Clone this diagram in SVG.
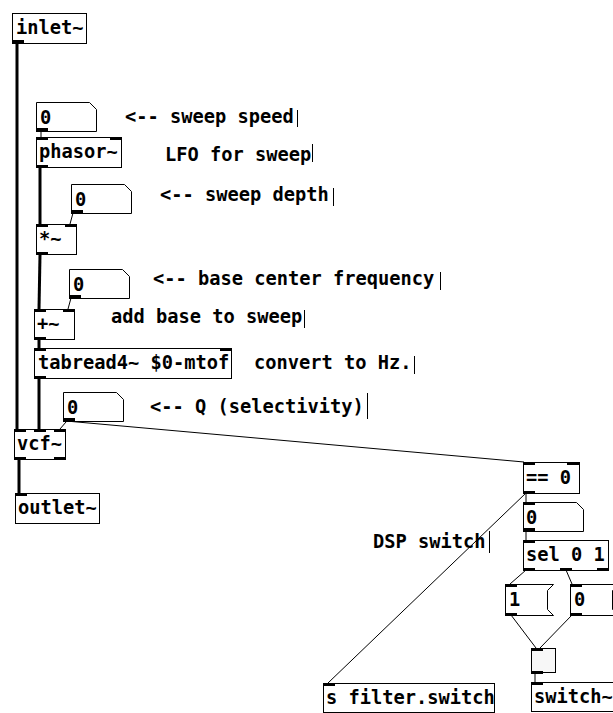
<svg xmlns="http://www.w3.org/2000/svg" width="613" height="713" viewBox="0 0 613 713">
<style>
.box{fill:#fff;stroke:#000;stroke-width:1}
.tab{fill:#000}
.t{font-family:"DejaVu Sans Mono","Liberation Mono",monospace;font-weight:bold;font-size:18.7px;fill:#000}
.sig{stroke:#000;stroke-width:3;fill:none}
.ctl{stroke:#000;stroke-width:1;fill:none}
.bar{stroke:#000;stroke-width:1}
</style>
<rect width="613" height="713" fill="#fff"/>
<g id="connectors">
<line class="sig" x1="17" y1="43" x2="17" y2="429"/>
<line class="sig" x1="40" y1="168" x2="40" y2="224"/>
<line class="sig" x1="40" y1="255" x2="39" y2="309"/>
<line class="sig" x1="39" y1="340" x2="39" y2="348"/>
<line class="sig" x1="39" y1="378" x2="39" y2="429"/>
<line class="sig" x1="19" y1="459" x2="19" y2="493"/>
<line class="ctl" x1="41" y1="132" x2="41" y2="137"/>
<line class="ctl" x1="73" y1="213" x2="70" y2="224"/>
<line class="ctl" x1="71" y1="298" x2="68" y2="309"/>
<line class="ctl" x1="66" y1="422" x2="60" y2="429"/>
<line class="ctl" x1="66" y1="421" x2="524" y2="462"/>
<line class="ctl" x1="526" y1="493" x2="526" y2="502"/>
<line class="ctl" x1="526" y1="493" x2="328" y2="683"/>
<line class="ctl" x1="526" y1="531" x2="526" y2="540"/>
<line class="ctl" x1="526" y1="570" x2="510" y2="584"/>
<line class="ctl" x1="566" y1="570" x2="572" y2="584"/>
<line class="ctl" x1="511" y1="615" x2="536" y2="648"/>
<line class="ctl" x1="572" y1="615" x2="540" y2="648"/>
<line class="ctl" x1="535" y1="673" x2="535" y2="682"/>
</g>
<g id="inlet">
<rect class="box" x="12.5" y="13.5" width="74" height="30"/>
<rect class="tab" x="12" y="40" width="12" height="4"/>
<text class="t" x="16" y="34">inlet~</text>
</g>
<g id="num-speed">
<path class="box" d="M36.5,102.5 H89.5 L96.5,109.5 V131.5 H36.5 Z"/>
<rect class="tab" x="36" y="128" width="12" height="4"/>
<text class="t" x="40" y="124">0</text>
</g>
<g id="phasor">
<rect class="box" x="36.5" y="137.5" width="85" height="30"/>
<rect class="tab" x="36" y="137" width="12" height="3"/>
<rect class="tab" x="110" y="137" width="12" height="3"/>
<rect class="tab" x="36" y="165" width="12" height="3"/>
<text class="t" x="39" y="158">phasor~</text>
</g>
<g id="num-depth">
<path class="box" d="M71.5,184.5 H124.5 L131.5,191.5 V213.5 H71.5 Z"/>
<rect class="tab" x="71" y="210" width="12" height="4"/>
<text class="t" x="75" y="206">0</text>
</g>
<g id="mul">
<rect class="box" x="36.5" y="224.5" width="40" height="30"/>
<rect class="tab" x="36" y="224" width="12" height="3"/>
<rect class="tab" x="65" y="224" width="12" height="3"/>
<rect class="tab" x="36" y="252" width="12" height="3"/>
<text class="t" x="39" y="245">*~</text>
</g>
<g id="num-base">
<path class="box" d="M69.5,269.5 H122.5 L129.5,276.5 V298.5 H69.5 Z"/>
<rect class="tab" x="69" y="295" width="12" height="4"/>
<text class="t" x="73" y="291">0</text>
</g>
<g id="add">
<rect class="box" x="34.5" y="309.5" width="40" height="30"/>
<rect class="tab" x="34" y="309" width="12" height="3"/>
<rect class="tab" x="63" y="309" width="12" height="3"/>
<rect class="tab" x="34" y="337" width="12" height="3"/>
<text class="t" x="37" y="330">+~</text>
</g>
<g id="tabread">
<rect class="box" x="34.5" y="348.5" width="197" height="30"/>
<rect class="tab" x="34" y="348" width="12" height="3"/>
<rect class="tab" x="220" y="348" width="12" height="3"/>
<rect class="tab" x="34" y="376" width="12" height="3"/>
<text class="t" x="38" y="369">tabread4~ $0-mtof</text>
</g>
<g id="num-q">
<path class="box" d="M63.5,392.5 H116.5 L123.5,399.5 V421.5 H63.5 Z"/>
<rect class="tab" x="63" y="418" width="12" height="4"/>
<text class="t" x="67" y="414">0</text>
</g>
<g id="vcf">
<rect class="box" x="14.5" y="429.5" width="51" height="30"/>
<rect class="tab" x="14" y="429" width="12" height="3"/>
<rect class="tab" x="34" y="429" width="12" height="3"/>
<rect class="tab" x="54" y="429" width="12" height="3"/>
<rect class="tab" x="14" y="457" width="12" height="3"/>
<rect class="tab" x="54" y="457" width="12" height="3"/>
<text class="t" x="17" y="450">vcf~</text>
</g>
<g id="outlet">
<rect class="box" x="15.5" y="493.5" width="84" height="30"/>
<rect class="tab" x="15" y="493" width="12" height="3"/>
<text class="t" x="18" y="514">outlet~</text>
</g>
<g id="eq0">
<rect class="box" x="523.5" y="462.5" width="56" height="31"/>
<rect class="tab" x="523" y="462" width="12" height="3"/>
<rect class="tab" x="567" y="462" width="12" height="3"/>
<rect class="tab" x="523" y="491" width="12" height="3"/>
<text class="t" x="526" y="484">== 0</text>
</g>
<g id="num-eq">
<path class="box" d="M523.5,502.5 H576.5 L583.5,509.5 V531.5 H523.5 Z"/>
<rect class="tab" x="523" y="502" width="12" height="3"/>
<rect class="tab" x="523" y="528" width="12" height="4"/>
<text class="t" x="526" y="524">0</text>
</g>
<g id="sel">
<rect class="box" x="523.5" y="540.5" width="85" height="30"/>
<rect class="tab" x="523" y="540" width="12" height="3"/>
<rect class="tab" x="523" y="568" width="12" height="3"/>
<rect class="tab" x="560" y="568" width="12" height="3"/>
<rect class="tab" x="597" y="568" width="12" height="3"/>
<text class="t" x="526" y="561">sel 0 1</text>
</g>
<g id="msg1">
<path class="box" d="M505.5,584.5 H553.5 L547.5,590.5 V609.5 L553.5,615.5 H505.5 Z"/>
<rect class="tab" x="505" y="584" width="12" height="3"/>
<rect class="tab" x="505" y="613" width="12" height="3"/>
<text class="t" x="509" y="606">1</text>
</g>
<g id="msg0">
<path class="box" d="M570.5,584.5 H618.5 L612.5,590.5 V609.5 L618.5,615.5 H570.5 Z"/>
<rect class="tab" x="570" y="584" width="12" height="3"/>
<rect class="tab" x="570" y="613" width="12" height="3"/>
<text class="t" x="574" y="606">0</text>
</g>
<g id="toggle">
<rect class="box" x="531.5" y="648.5" width="24" height="24" style="fill:#f7f7f7"/>
<rect class="tab" x="531" y="648" width="12" height="3"/>
<rect class="tab" x="531" y="671" width="12" height="3"/>
</g>
<g id="switch">
<rect class="box" x="531.5" y="682.5" width="86" height="29"/>
<rect class="tab" x="531" y="682" width="12" height="3"/>
<text class="t" x="534" y="703">switch~</text>
</g>
<g id="send">
<rect class="box" x="323.5" y="683.5" width="171" height="29"/>
<rect class="tab" x="323" y="683" width="12" height="3"/>
<text class="t" x="326" y="704">s filter.switch</text>
</g>
<g id="comments">
<text class="t" x="125" y="123">&lt;-- sweep speed</text>
<line class="bar" x1="297.5" y1="110" x2="297.5" y2="127"/>
<text class="t" x="165" y="161">LFO for sweep</text>
<line class="bar" x1="312.5" y1="144" x2="312.5" y2="162"/>
<text class="t" x="160" y="201">&lt;-- sweep depth</text>
<line class="bar" x1="333.5" y1="188" x2="333.5" y2="206"/>
<text class="t" x="153" y="285">&lt;-- base center frequency</text>
<line class="bar" x1="440.5" y1="272" x2="440.5" y2="290"/>
<text class="t" x="111" y="323">add base to sweep</text>
<line class="bar" x1="304.5" y1="310" x2="304.5" y2="328"/>
<text class="t" x="254" y="369">convert to Hz.</text>
<line class="bar" x1="414.5" y1="356" x2="414.5" y2="374"/>
<text class="t" x="150" y="413">&lt;-- Q (selectivity)</text>
<line class="bar" x1="367.5" y1="393" x2="367.5" y2="419"/>
<text class="t" x="373" y="548">DSP switch</text>
<line class="bar" x1="489.5" y1="531" x2="489.5" y2="553"/>
</g>
</svg>
